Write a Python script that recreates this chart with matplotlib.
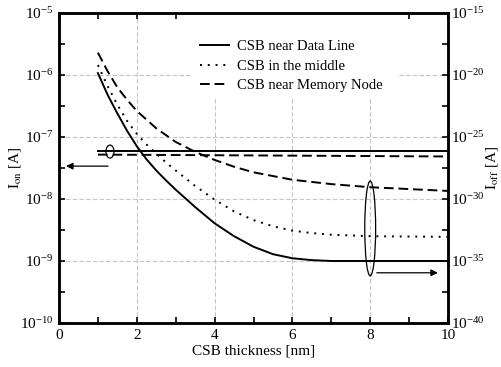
import numpy as np
import matplotlib
matplotlib.use("Agg")
import matplotlib.pyplot as plt
from matplotlib.patches import Ellipse, Rectangle
from matplotlib.ticker import FixedLocator, NullFormatter

plt.rcParams["font.family"] = ["Liberation Serif", "DejaVu Serif"]
plt.rcParams["mathtext.fontset"] = "stix"

# CSB thickness [nm]
thick_solid = [1.0, 1.25, 1.5, 1.75, 2.0, 2.25, 2.5, 2.75, 3.0, 3.5, 4.0, 4.5,
               5.0, 5.5, 6.0, 6.5, 7.0, 8.0, 9.0, 10.0]
thick_dot = [1.0, 1.25, 1.5, 1.75, 2.0, 2.25, 2.5, 2.75, 3.0, 3.5, 4.0, 4.5,
             5.0, 5.5, 6.0, 6.5, 7.0, 8.0, 9.0, 10.0]
thick_dash = [1.0, 1.25, 1.5, 1.75, 2.0, 2.5, 3.0, 3.5, 4.0, 4.5, 5.0, 6.0,
              7.0, 8.0, 9.0, 10.0]

# log10(I_off [A])
ioff_exp_data_line = [-19.85, -21.6, -23.1, -24.5, -25.75, -26.8, -27.7, -28.5, -29.25,
                      -30.65, -31.96, -33.0, -33.85, -34.45, -34.78, -34.93, -35.0,
                      -35.0, -35.0, -35.0]
ioff_exp_middle = [-19.2, -20.9, -22.4, -23.7, -24.75, -25.6, -26.35, -27.05, -27.7,
                   -28.95, -30.05, -31.0, -31.7, -32.2, -32.55, -32.75, -32.88,
                   -33.0, -33.03, -33.05]
ioff_exp_memory = [-18.2, -19.7, -21.0, -22.0, -22.9, -24.3, -25.4, -26.2, -26.85,
                   -27.4, -27.85, -28.45, -28.8, -29.05, -29.2, -29.35]

# I_on [A] (end points)
thick_on = [1.0, 10.0]
ion_data_line = [6.0e-8, 6.0e-8]
ion_middle = [6.0e-8, 6.0e-8]
ion_memory = [5.2e-8, 4.85e-8]

labels = ["CSB near Data Line", "CSB in the middle", "CSB near Memory Node"]

styles = ["-", (0, (1, 3)), (0, (5, 2.5))]
lw = 1.4
fs = 11

fig = plt.figure(figsize=(5.01, 3.67), dpi=100)
ax = fig.add_axes([0.1178, 0.1199, 0.7764, 0.8447])
ax2 = ax.twinx()

# I_on on the left axis
ax.plot(thick_on, ion_middle, color="black", lw=lw, linestyle=styles[1], zorder=3)
ax.plot(thick_on, ion_data_line, color="black", lw=lw, linestyle=styles[0], zorder=3)
ax.plot(thick_on, ion_memory, color="black", lw=lw, linestyle=styles[2], zorder=3)

# I_off on the right axis
h1, = ax2.plot(thick_solid, 10.0 ** np.array(ioff_exp_data_line), color="black",
               lw=lw, linestyle=styles[0], label=labels[0])
h2, = ax2.plot(thick_dot, 10.0 ** np.array(ioff_exp_middle), color="black",
               lw=lw, linestyle=styles[1], label=labels[1])
h3, = ax2.plot(thick_dash, 10.0 ** np.array(ioff_exp_memory), color="black",
               lw=lw, linestyle=styles[2], label=labels[2])

ax.set_xlim(0, 10)
ax.set_yscale("log")
ax.set_ylim(1e-10, 1e-5)
ax2.set_yscale("log")
ax2.set_ylim(1e-40, 1e-15)

ax.xaxis.set_major_locator(FixedLocator([0, 2, 4, 6, 8, 10]))
ax.xaxis.set_minor_locator(FixedLocator([1, 3, 5, 7, 9]))
ax.yaxis.set_major_locator(FixedLocator([10.0 ** k for k in range(-10, -4)]))
ax.yaxis.set_minor_locator(FixedLocator([10.0 ** (k + 0.5) for k in range(-10, -5)]))
ax.yaxis.set_minor_formatter(NullFormatter())
ax2.yaxis.set_major_locator(FixedLocator([10.0 ** k for k in range(-40, -14, 5)]))
ax2.yaxis.set_minor_locator(FixedLocator([10.0 ** (k + 2.5) for k in range(-40, -15, 5)]))
ax2.yaxis.set_minor_formatter(NullFormatter())

for a in (ax, ax2):
    a.tick_params(which="both", direction="in", length=4, width=1.2, labelsize=11, pad=4)
    for s in a.spines.values():
        s.set_linewidth(1.8)
ax.tick_params(which="both", top=True)
ax.tick_params(axis="y", pad=4)
ax2.tick_params(axis="y", pad=2)

ax.grid(True, which="major", color="#c4c4c4", linestyle=(0, (4, 2)), linewidth=0.8)
ax.set_axisbelow(True)

ax.set_xlabel("CSB thickness [nm]", fontsize=fs, labelpad=2)
ax.set_ylabel(r"$\mathrm{I_{on}}$ [A]", fontsize=fs, va="center")
ax2.set_ylabel(r"$\mathrm{I_{off}}$ [A]", fontsize=fs, va="center")
ax.yaxis.set_label_coords(-0.113, 0.5)
ax2.yaxis.set_label_coords(1.112, 0.5)

# white backdrop behind the legend, hides the grid there
ax.add_patch(Rectangle((0.344, 0.729), 0.525, 0.271, transform=ax.transAxes,
                       facecolor="white", edgecolor="none", zorder=1))

leg = ax2.legend(handles=[h1, h2, h3], loc="upper left", bbox_to_anchor=(0.3625, 0.912),
                 fontsize=10.5, frameon=False, handlelength=2.0, handletextpad=0.55,
                 labelspacing=0.42, borderaxespad=0.0, borderpad=0.0)

# ellipses and arrows marking which axis each group belongs to
ax2.add_patch(Ellipse((0.131, 0.553), 0.0206, 0.042, transform=ax2.transAxes,
                      fill=False, edgecolor="black", lw=0.9))
ax2.annotate("", xy=(0.018, 0.506), xytext=(0.126, 0.506), xycoords="axes fraction",
             arrowprops=dict(arrowstyle="-|>", color="black", lw=0.9,
                             mutation_scale=10, shrinkA=0, shrinkB=0))
ax2.add_patch(Ellipse((0.8, 0.305), 0.028, 0.306, transform=ax2.transAxes,
                      fill=False, edgecolor="black", lw=0.9))
ax2.annotate("", xy=(0.974, 0.162), xytext=(0.817, 0.162), xycoords="axes fraction",
             arrowprops=dict(arrowstyle="-|>", color="black", lw=0.9,
                             mutation_scale=10, shrinkA=0, shrinkB=0))

fig.savefig("out.png", dpi=100)
